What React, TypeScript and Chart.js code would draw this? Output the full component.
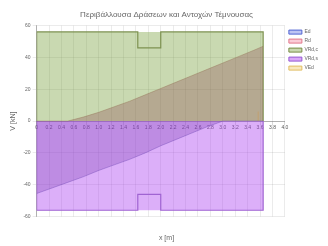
import { useEffect, useRef } from "react";
import { Chart, registerables } from "chart.js";

Chart.register(...registerables);

// Positions along the beam [m]
const X_POS = [0, 0.25, 0.5, 0.75, 1, 1.25, 1.5, 1.75, 2, 2.25, 2.5, 2.75, 3, 3.25, 3.5, 3.65];
// Shear action envelopes [kN]
const ED_POS = [0, 0, 0, 2.5, 5.5, 9, 12.5, 16.5, 20.5, 24.5, 28.5, 32.5, 36.5, 40.5, 44.5, 47];
const ED_NEG = [-45.5, -42, -38.5, -35, -31, -27.5, -24, -20, -15.5, -11.5, -7.5, -3.5, 0, 0, 0, 0];
// Shear resistance envelopes [kN]
const RD_X = [0, 0, 1.63, 1.63, 2.0, 2.0, 3.65, 3.65];
const RD_POS = [0, 56, 56, 46, 46, 56, 56, 0];
const RD_NEG = [0, -56, -56, -46, -46, -56, -56, 0];
const RD_BOX_X = [0, 0, 3.65, 3.65];
const RD_BOX_POS = [0, 56, 56, 0];
const RD_BOX_NEG = [0, -56, -56, 0];
// small extra series
const EXTRA_X = [3.57, 3.57];
const EXTRA_Y = [0, 6];

const LABELS = ["Ed", "Rd", "VRd,c", "VRd,s", "VEd"];
const LEGEND_FILL = [
  "rgba(70,90,220,0.35)",
  "rgba(240,110,140,0.35)",
  "rgba(120,160,60,0.4)",
  "rgba(170,60,240,0.45)",
  "rgba(240,200,90,0.4)",
];
const LEGEND_STROKE = [
  "rgb(80,100,210)",
  "rgb(225,120,140)",
  "rgb(120,140,70)",
  "rgb(150,90,210)",
  "rgb(225,190,100)",
];

const TITLE = "Περιβάλλουσα Δράσεων και Αντοχών Τέμνουσας";
const X_TITLE = "x [m]";
const Y_TITLE = "V [kN]";

const pts = (xs: number[], ys: number[]) => xs.map((x, i) => ({ x, y: ys[i] }));

export default function App() {
  const ref = useRef<HTMLCanvasElement | null>(null);

  useEffect(() => {
    if (!ref.current) return;
    const FONT = "'Liberation Sans', Arial, sans-serif";
    const chart = new Chart(ref.current, {
      type: "line",
      data: {
        datasets: [
          {
            label: LABELS[0],
            data: pts(X_POS, ED_NEG),
            fill: "origin",
            backgroundColor: "rgba(110,50,170,0.28)",
            borderColor: "rgba(110,70,180,0.4)",
            borderWidth: 1,
            pointRadius: 0,
          },
          {
            label: LABELS[1],
            data: pts(X_POS, ED_POS),
            fill: "origin",
            backgroundColor: "rgba(140,70,80,0.33)",
            borderColor: "rgba(150,120,90,0.45)",
            borderWidth: 1,
            pointRadius: 0,
          },
          {
            label: LABELS[2],
            data: pts(RD_X, RD_POS),
            fill: false,
            backgroundColor: LEGEND_FILL[2],
            borderColor: "rgb(125,145,80)",
            borderWidth: 1.2,
            pointRadius: 0,
          },
          {
            label: LABELS[3],
            data: pts(RD_X, RD_NEG),
            fill: false,
            backgroundColor: LEGEND_FILL[3],
            borderColor: "rgb(160,100,210)",
            borderWidth: 1.2,
            pointRadius: 0,
          },
          {
            label: LABELS[4],
            data: pts(EXTRA_X, EXTRA_Y),
            fill: false,
            backgroundColor: LEGEND_FILL[4],
            borderColor: "rgba(230,200,100,0.6)",
            borderWidth: 1,
            pointRadius: 0,
          },
          {
            label: "_boxPos",
            data: pts(RD_BOX_X, RD_BOX_POS),
            fill: "origin",
            backgroundColor: "rgba(120,160,60,0.4)",
            borderWidth: 0,
            pointRadius: 0,
          },
          {
            label: "_boxNeg",
            data: pts(RD_BOX_X, RD_BOX_NEG),
            fill: "origin",
            backgroundColor: "rgba(175,70,240,0.43)",
            borderWidth: 0,
            pointRadius: 0,
          },
        ],
      },
      options: {
        responsive: false,
        animation: false,
        layout: { padding: { left: 5, right: 0, top: 0, bottom: 0 } },
        plugins: {
          title: {
            display: true,
            text: TITLE,
            color: "#666",
            font: { family: FONT, size: 8, weight: "normal" },
            padding: { top: 10, bottom: 6 },
          },
          subtitle: {
            display: true,
            position: "bottom",
            text: X_TITLE,
            color: "#666",
            font: { family: FONT, size: 7 },
            padding: { top: 17, bottom: 4 },
          },
          legend: {
            position: "right",
            align: "start",
            fullSize: false,
            labels: {
              boxWidth: 13,
              boxHeight: 4,
              padding: 4,
              color: "#666",
              font: { family: FONT, size: 5 },
              generateLabels: (c: any) => {
                const items = Chart.defaults.plugins.legend.labels.generateLabels(c);
                return items
                  .filter((it: any) => it.datasetIndex < 5)
                  .map((it: any) => ({
                    ...it,
                    fillStyle: LEGEND_FILL[it.datasetIndex],
                    strokeStyle: LEGEND_STROKE[it.datasetIndex],
                    lineWidth: 1,
                  }));
              },
            },
          },
          tooltip: { enabled: false },
        },
        scales: {
          x: {
            type: "linear",
            position: { y: 0 } as any,
            min: 0,
            max: 4,
            ticks: {
              stepSize: 0.2,
              color: "#555",
              padding: 1,
              maxRotation: 0,
              autoSkip: false,
              font: { family: FONT, size: 5 },
            },
            grid: { color: "rgba(0,0,0,0.08)", tickLength: 3 },
            border: { color: "rgba(0,0,0,0.25)" },
          },
          y: {
            min: -60,
            max: 60,
            ticks: {
              stepSize: 20,
              color: "#666",
              padding: 2,
              font: { family: FONT, size: 5 },
            },
            grid: { color: "rgba(0,0,0,0.08)", tickLength: 4 },
            border: { color: "rgba(0,0,0,0.25)" },
            title: {
              display: true,
              text: Y_TITLE,
              color: "#666",
              font: { family: FONT, size: 7 },
            },
          },
        },
      },
    });
    return () => chart.destroy();
  }, []);

  return (
    <div style={{ position: "absolute", left: 0, top: 0, width: 328, height: 246, background: "#fff" }}>
      <canvas ref={ref} width={328} height={246} />
    </div>
  );
}
